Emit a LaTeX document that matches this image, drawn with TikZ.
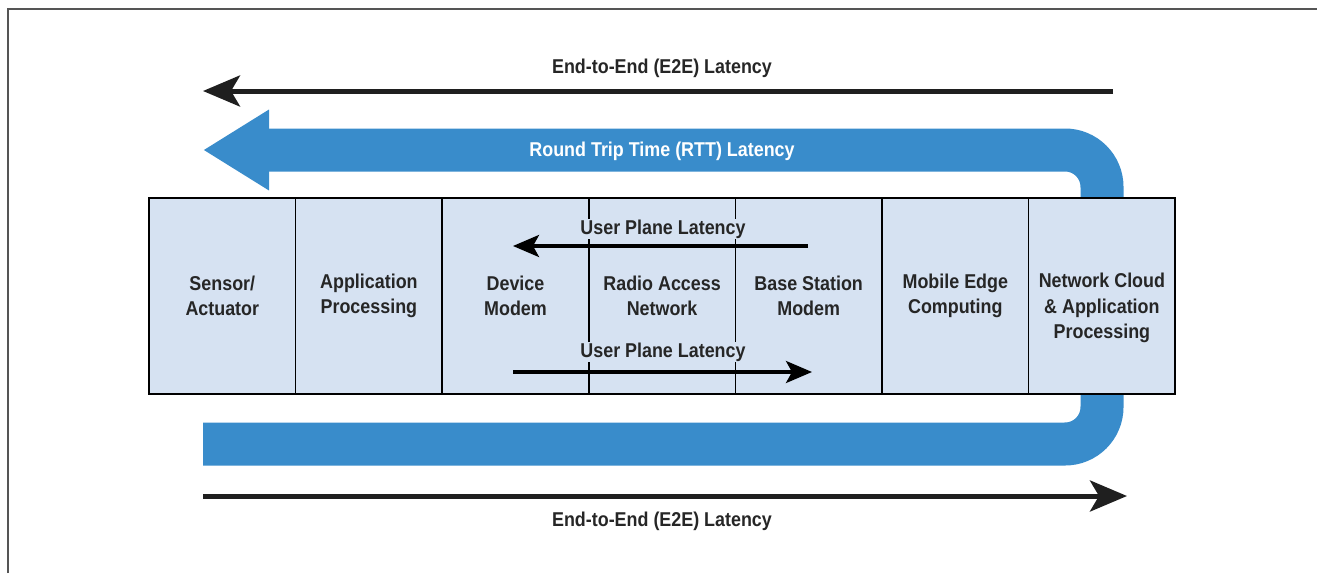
\documentclass[tikz,border=0pt]{standalone}
\usepackage{fontspec}
\setmainfont{Liberation Sans}[FakeStretch=0.895]
\usepackage{tikz}
\usetikzlibrary{arrows.meta, positioning}
\definecolor{bandblue}{HTML}{398CCB}
\definecolor{boxfill}{HTML}{D6E2F2}
\definecolor{framegray}{HTML}{555555}
\tikzset{%
   % one column of the chain
   col/.style={
      draw=black,
      line width=1.6pt,
      fill=boxfill,
      minimum width=146.6pt,
      minimum height=196pt,
      inner sep=0pt,
      outer sep=0pt,
      align=center,
      font=\bfseries\fontsize{20}{25.5}\selectfont,
      text=black!85
   },
   coltext/.style={
      align=center,
      inner sep=0pt,
      font=\bfseries\fontsize{20}{25.5}\selectfont,
      text=black!85
   },
   lbl/.style={
      font=\bfseries\fontsize{20}{22}\selectfont,
      text=black!85,
      inner sep=1pt
   },
   e2e/.style={
      line width=5pt,
      color=black!88,
      -{Stealth[length=37pt, width=31pt, inset=9pt]}
   },
   upl/.style={
      line width=3.5pt,
      color=black,
      -{Stealth[length=26pt, width=22pt, inset=6pt]}
   },
   rtt/.style={
      line width=43pt,
      color=bandblue,
      rounded corners=37pt,
      -{Triangle[length=66pt, width=76pt]}
   },
}

\begin{document}
\begin{tikzpicture}[x=1pt, y=-1pt]
\useasboundingbox (0,0) rectangle (1317,573);
\draw[framegray, line width=1.5pt] (8,573) -- (8,9) -- (1317,9);

% round trip band (passes behind the last column)
\coordinate (rttS) at (203,444);
\coordinate (rttE) at (203,150);
\draw[rtt] (rttS) -- (1102,444) -- (1102,150) -- (rttE);
\node[lbl, text=white] (rttlbl) at (662,151) {Round Trip Time (RTT) Latency};

% the chain
\node[col] (sensor) at (222.3,296) {Sensor/\\Actuator};
\node[col, right=0pt of sensor] (app) {Application\\Processing};
\node[col, right=0pt of app] (devmod) {Device\\Modem};
\node[col, right=0pt of devmod] (ran) {Radio Access\\Network};
\node[col, right=0pt of ran] (bsmod) {Base Station\\Modem};
\node[col, right=0pt of bsmod] (mec) {Mobile Edge\\Computing};
\node[col, right=0pt of mec] (cloud) {};
\node[coltext, yshift=-12pt] (cloudlbl) at (cloud.center) {Network Cloud\\\& Application\\Processing};

% user plane
\node[lbl, fill=boxfill] (upltop) at (663,229) {User Plane Latency};
\coordinate (uplA) at (808,246);
\coordinate (uplB) at (513,246);
\draw[upl] (uplA) -- (uplB);
\node[lbl, fill=boxfill] (uplbot) at (663,352) {User Plane Latency};
\coordinate (uplC) at (513,372);
\coordinate (uplD) at (812,372);
\draw[upl] (uplC) -- (uplD);

% end to end
\node[lbl] (e2etop) at (662,68) {End-to-End (E2E) Latency};
\coordinate (e2eA) at (1113,91);
\coordinate (e2eB) at (203,91);
\draw[e2e] (e2eA) -- (e2eB);
\node[lbl] (e2ebot) at (662,521) {End-to-End (E2E) Latency};
\coordinate (e2eC) at (203,496);
\coordinate (e2eD) at (1127,496);
\draw[e2e] (e2eC) -- (e2eD);
\end{tikzpicture}
\end{document}
